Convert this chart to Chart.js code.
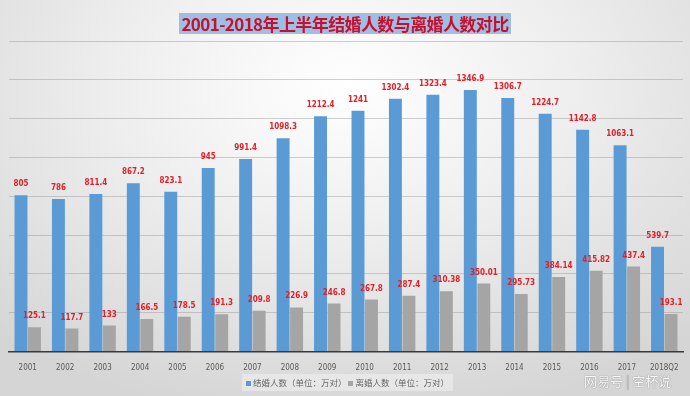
<!DOCTYPE html>
<html>
<head>
<meta charset="utf-8">
<script src="https://cdn.jsdelivr.net/npm/chart.js@4/dist/chart.umd.min.js"></script>
<style>
  html, body { margin: 0; padding: 0; }
  body {
    width: 690px; height: 396px; overflow: hidden; position: relative;
    background: radial-gradient(ellipse 75% 85% at 50% 22%, #ffffff 0%, #eeeeee 45%, #d5d5d5 100%);
    font-family: "Noto Sans CJK SC", "Noto Sans", sans-serif;
  }
  #wrap { position: absolute; left: 0; top: 0; width: 690px; height: 396px; }
  #title {
    position: absolute; top: 12px; left: 0; width: 690px; text-align: center;
  }
  #title span {
    background: #9dbfe3; color: #c8102e; font-weight: bold; font-size: 17px;
    line-height: 21px; padding: 0 2px; display: inline-block; letter-spacing: -0.6px;
  }
  #legend {
    position: absolute; top: 374px; left: 242px; height: 17px; padding: 0 4px;
    background: rgba(255,255,255,0.35); font-size: 8.5px; color: #666; line-height: 17px; white-space: nowrap;
  }
  #legend i { display: inline-block; width: 5px; height: 5px; margin: 0 2px 1px 0; vertical-align: middle; }
  #mark {
    position: absolute; top: 371px; left: 584px; font-size: 13px; color: #fafafa;
    text-shadow: 0 0 1px #888, 0 0 1px #888; white-space: nowrap;
  }
</style>
</head>
<body>
<div id="wrap"><canvas id="chart" width="690" height="396"></canvas></div>
<div id="title"><span>2001-2018年上半年结婚人数与离婚人数对比</span></div>
<div id="legend"><i style="background:#5b9bd5"></i>结婚人数（单位：万对）&nbsp;<i style="background:#a5a5a5"></i>离婚人数（单位：万对）</div>
<div id="mark">网易号 <span style="color:#ccc">|</span> 空杯说</div>
<script>
const years = ['2001', '2002', '2003', '2004', '2005', '2006', '2007', '2008', '2009',
  '2010', '2011', '2012', '2013', '2014', '2015', '2016', '2017', '2018Q2'];
const marriages = [805, 786, 811.4, 867.2, 823.1, 945, 991.4, 1098.3, 1212.4,
  1241, 1302.4, 1323.4, 1346.9, 1306.7, 1224.7, 1142.8, 1063.1, 539.7];
const divorces = [125.1, 117.7, 133, 166.5, 178.5, 191.3, 209.8, 226.9, 246.8,
  267.8, 287.4, 310.38, 350.01, 295.73, 384.14, 415.82, 437.4, 193.1];
const seriesNames = ['结婚人数（单位：万对）', '离婚人数（单位：万对）'];

// red value labels above each bar
const valueLabels = {
  id: 'valueLabels',
  afterDatasetsDraw(chart) {
    const ctx = chart.ctx;
    ctx.save();
    ctx.fillStyle = '#e0202a';
    ctx.font = "bold 8px 'DejaVu Sans Condensed', 'Liberation Sans Narrow', sans-serif";
    ctx.textAlign = 'center';
    ctx.textBaseline = 'middle';
    chart.data.datasets.forEach((ds, i) => {
      chart.getDatasetMeta(i).data.forEach((bar, j) => {
        ctx.fillText(String(ds.data[j]), bar.x, bar.y - 11);
      });
    });
    ctx.restore();
  }
};

new Chart(document.getElementById('chart'), {
  type: 'bar',
  data: {
    labels: years,
    datasets: [
      { label: seriesNames[0], data: marriages, backgroundColor: '#5b9bd5' },
      { label: seriesNames[1], data: divorces, backgroundColor: '#a5a5a5' }
    ]
  },
  options: {
    responsive: false,
    animation: false,
    layout: { padding: { left: 9, right: 7, top: 41, bottom: 19 } },
    datasets: { bar: { categoryPercentage: 0.72, barPercentage: 0.96 } },
    plugins: { legend: { display: false }, tooltip: { enabled: false } },
    scales: {
      x: {
        grid: { display: false },
        border: { color: '#3a3a3a', width: 1.5 },
        ticks: {
          color: '#595959', padding: 4, maxRotation: 0, autoSkip: false,
          font: { size: 8, family: "'DejaVu Sans Condensed', 'Liberation Sans Narrow', sans-serif" }
        }
      },
      y: {
        min: 0, max: 1600,
        ticks: { display: false, stepSize: 200 },
        border: { display: false },
        grid: { color: 'rgba(150,150,150,0.45)', drawTicks: false }
      }
    }
  },
  plugins: [valueLabels]
});
</script>
</body>
</html>
